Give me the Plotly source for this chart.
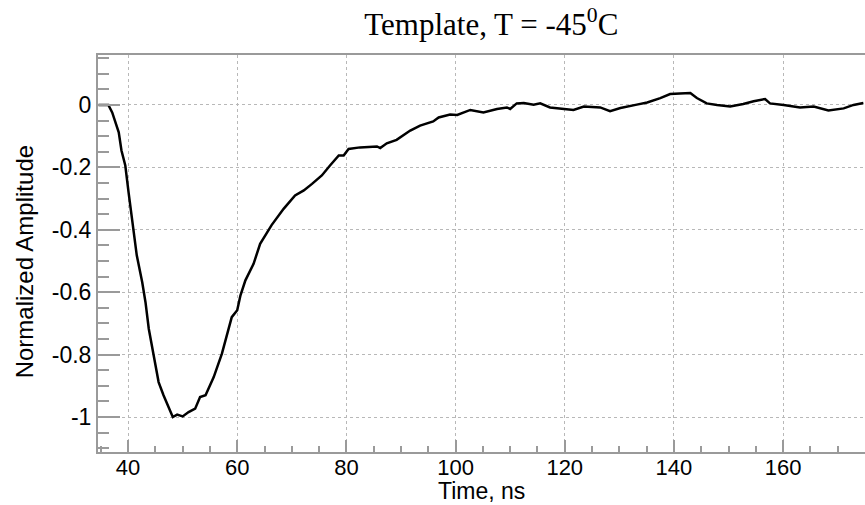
import plotly.graph_objects as go

# Data
time_ns = [34.6, 36.4, 37.1, 38.3, 38.8, 39.5, 40.1, 41.0, 41.6, 42.6, 43.2, 43.8,
           44.7, 45.6, 46.5, 47.4, 48.2, 49.0, 50.0, 51.1, 52.3, 53.2, 54.2, 55.7,
           57.2, 59.0, 60.0, 60.6, 61.5, 63.0, 64.2, 66.3, 68.5, 70.6, 72.2, 73.7,
           75.5, 77.0, 78.6, 79.5, 80.4, 82.5, 85.6, 86.2, 87.4, 89.2, 91.7, 93.5,
           95.9, 96.9, 99.0, 100.3, 102.7, 105.1, 107.6, 109.4, 110.0, 111.2, 112.5,
           114.3, 115.5, 117.3, 121.6, 123.5, 126.5, 128.3, 130.2, 133.2, 135.1,
           137.5, 139.3, 141.1, 143.0, 144.2, 146.0, 147.9, 150.3, 152.7, 154.6,
           156.7, 157.6, 160.1, 163.1, 165.6, 168.3, 171.1, 172.9, 174.7]
amplitude = [0.0, 0.0, -0.024, -0.088, -0.146, -0.194, -0.28, -0.397, -0.482, -0.568,
             -0.632, -0.717, -0.803, -0.888, -0.93, -0.968, -1.0, -0.992, -0.998,
             -0.984, -0.973, -0.936, -0.93, -0.872, -0.797, -0.68, -0.658, -0.61,
             -0.562, -0.509, -0.445, -0.385, -0.333, -0.29, -0.274, -0.253, -0.226,
             -0.194, -0.162, -0.162, -0.141, -0.136, -0.133, -0.138, -0.123, -0.112,
             -0.082, -0.066, -0.053, -0.04, -0.031, -0.032, -0.016, -0.024, -0.013,
             -0.008, -0.013, 0.005, 0.006, 0.001, 0.005, -0.008, -0.016, -0.005,
             -0.008, -0.02, -0.01, 0.001, 0.008, 0.022, 0.035, 0.037, 0.038, 0.022,
             0.005, 0.0, -0.005, 0.003, 0.012, 0.019, 0.005, 0.0, -0.008, -0.005,
             -0.018, -0.011, 0.0, 0.006]

x_tickvals = [40, 60, 80, 100, 120, 140, 160]
x_ticktext = ["40", "60", "80", "100", "120", "140", "160"]
y_tickvals = [0, -0.2, -0.4, -0.6, -0.8, -1.0]
y_ticktext = ["0", "-0.2", "-0.4", "-0.6", "-0.8", "-1"]

title_text = "Template, T = -45<sup>0</sup>C"
x_title = "Time, ns"
y_title = "Normalized Amplitude"

AX = "#9a9a9a"
GRID = "#b8b8b8"
SANS = "Liberation Sans, Arial, sans-serif"

fig = go.Figure()
fig.add_trace(go.Scatter(x=time_ns, y=amplitude, mode="lines",
                         line=dict(color="black", width=2.5), showlegend=False))

fig.update_layout(
    width=865, height=505,
    margin=dict(l=98, r=0, t=55, b=53),
    plot_bgcolor="white", paper_bgcolor="white",
    title=dict(text=title_text, x=0.568, xanchor="center", y=0.952, yanchor="middle",
               xref="container", yref="container",
               font=dict(family="Liberation Serif, Times New Roman, serif", size=31, color="black")),
    font=dict(family=SANS, color="black"),
)

fig.update_xaxes(
    range=[34.5, 175], tickvals=x_tickvals, ticktext=x_ticktext,
    ticks="inside", ticklen=12, tickwidth=2, tickcolor=AX,
    showline=True, linecolor=AX, linewidth=2, mirror=True,
    showgrid=True, gridcolor=GRID, griddash="dot", gridwidth=1,
    zeroline=False, ticklabelstandoff=-5,
    tickfont=dict(family=SANS, size=22, color="black"),
    minor=dict(dtick=5, tick0=0, ticks="inside", ticklen=6, tickwidth=2,
               tickcolor=AX, showgrid=False),
)
fig.update_yaxes(
    range=[-1.112, 0.16], tickvals=y_tickvals, ticktext=y_ticktext,
    ticks="inside", ticklen=22, tickwidth=2, tickcolor=AX,
    showline=True, linecolor=AX, linewidth=2,
    showgrid=True, gridcolor=GRID, griddash="dot", gridwidth=1,
    zeroline=False,
    tickfont=dict(family=SANS, size=23, color="black"),
    minor=dict(dtick=0.05, tick0=0, ticks="inside", ticklen=11, tickwidth=2,
               tickcolor=AX, showgrid=False),
)

fig.add_annotation(text=x_title, xref="paper", yref="paper", x=0.5, y=-0.098,
                   xanchor="center", yanchor="middle", showarrow=False,
                   font=dict(family=SANS, size=23, color="black"))
fig.add_annotation(text=y_title, xref="paper", yref="paper", x=-0.0947, y=0.4786,
                   xanchor="center", yanchor="middle", showarrow=False, textangle=-90,
                   font=dict(family=SANS, size=24, color="black"))

fig.write_html("out.html")
